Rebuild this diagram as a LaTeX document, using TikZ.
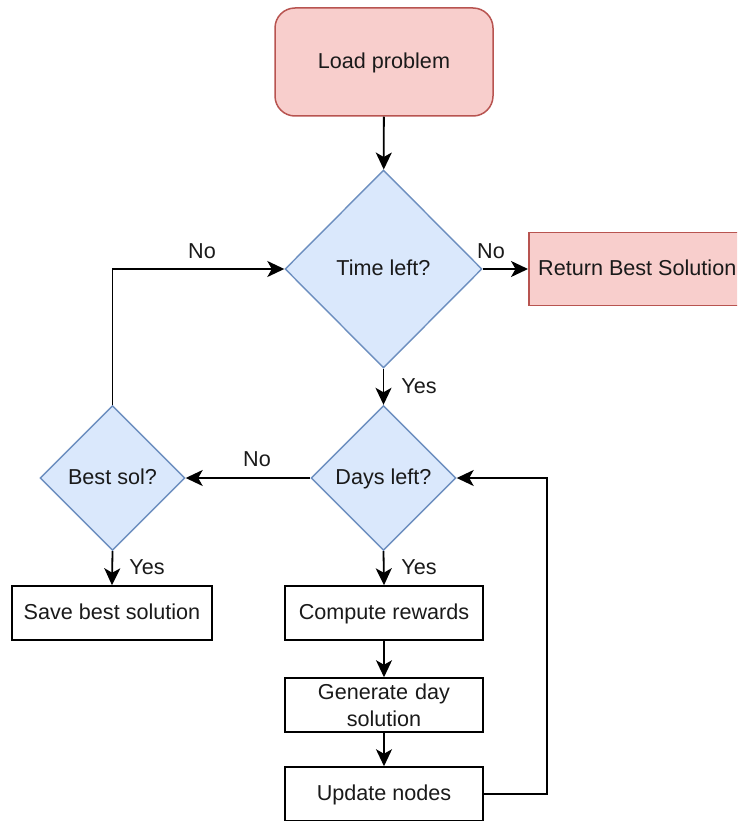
\documentclass[tikz,border=0pt]{standalone}
\usepackage{fontspec}
\setmainfont{Liberation Sans}
\usetikzlibrary{shapes.geometric,arrows.meta}
\definecolor{redfill}{HTML}{F8CECC}
\definecolor{redline}{HTML}{B85450}
\definecolor{bluefill}{HTML}{DAE8FC}
\definecolor{blueline}{HTML}{6C8EBF}
\definecolor{txt}{HTML}{1A1A1A}
\begin{document}
\begin{tikzpicture}[x=1pt,y=-1pt,
  every node/.style={font=\fontsize{21.6}{27}\selectfont, text=txt, inner sep=0pt},
  oneline/.style={text height=17pt, text depth=4pt},
  proc/.style={rectangle, draw=black, line width=1.5pt, fill=white, minimum width=198pt, minimum height=54pt, align=center},
  term/.style={rectangle, draw=redline, fill=redfill, line width=1.5pt, oneline},
  decide/.style={diamond, aspect=1, draw=blueline, fill=bluefill, line width=1.4pt, oneline},
  flow/.style={line width=1.8pt, -{Stealth[length=17pt,width=16pt,inset=4.5pt]}},
  lbl/.style={fill=none}
]
\clip (0,0) rectangle (737,821);
\fill[white] (0,0) rectangle (737,821);

% start and end terminals
\node[term, rounded corners=20pt, minimum width=218pt, minimum height=108pt] (load) at (384,62) {Load problem};
\node[term, minimum width=217pt, minimum height=73pt, anchor=west] (ret) at (528,269) {Return Best Solution};

% decisions
\node[decide, minimum width=197pt, minimum height=198pt] (time) at (383.5,269) {Time left?};
\node[decide, minimum width=145pt, minimum height=145pt] (days) at (383.5,478) {Days left?};
\node[decide, minimum width=145pt, minimum height=145pt] (best) at (112.5,478) {Best sol?};

% processes
\node[proc, oneline, minimum width=200pt] (save) at (112,613) {Save best solution};
\node[proc, oneline] (comp) at (384,613) {Compute rewards};
\node[proc, text width=198pt] (gen) at (384,705) {Generate day\\solution};
\node[proc, oneline] (upd) at (384,794) {Update nodes};

% connectors
\draw[flow] (load) -- (time);
\draw[flow] (time.east) -- (ret.west);
\draw[flow] (time.south) -- (days.north);
\draw[flow] (days.west) -- (best.east);
\draw[flow] (best.north) |- (time.west);
\draw[flow] (best.south) -- (save.north);
\draw[flow] (days.south) -- (comp.north);
\draw[flow] (comp) -- (gen);
\draw[flow] (gen) -- (upd);
\coordinate (loopc) at (547,794);
\draw[flow] (upd.east) -- (loopc) |- (days.east);

% edge labels
\node[lbl] at (202,251) {No};
\node[lbl] at (491,251) {No};
\node[lbl] at (419,386) {Yes};
\node[lbl] at (257,459) {No};
\node[lbl] at (147,567) {Yes};
\node[lbl] at (419,567) {Yes};
\end{tikzpicture}
\end{document}
